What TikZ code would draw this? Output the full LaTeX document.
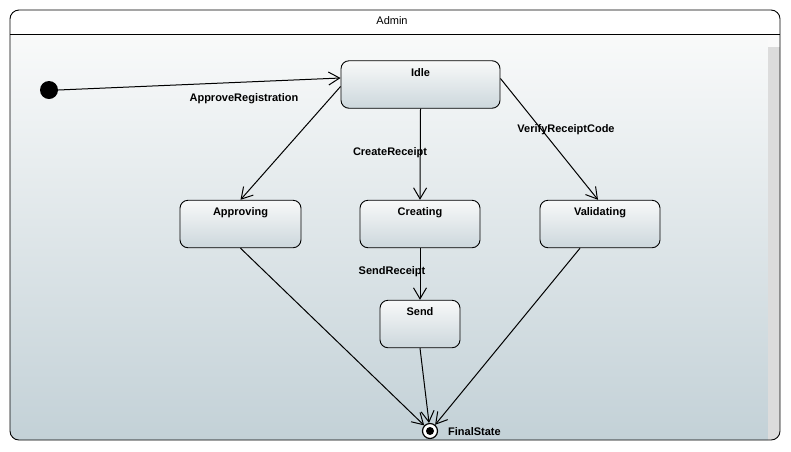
\documentclass[tikz,border=0pt]{standalone}
\usepackage{fontspec}
\setmainfont{Liberation Sans}
\usetikzlibrary{arrows.meta,calc}
\definecolor{bgtop}{HTML}{F9FAFA}
\definecolor{bgbot}{HTML}{C3D1D7}
\definecolor{boxtop}{HTML}{F8F9F9}
\definecolor{boxbot}{HTML}{CCD7DC}
\definecolor{scroll}{HTML}{DCDCDC}
\tikzset{
  statebox/.style={draw=black, line width=0.9pt, rounded corners=8pt, top color=boxtop, bottom color=boxbot,
    inner xsep=0pt, inner ysep=0pt, text height=15.5pt, text depth=32pt, font=\fontsize{11}{13}\selectfont\bfseries},
  trans/.style={line width=1pt, -{Straight Barb[length=11pt,width=13pt,line width=1pt]}},
  lbl/.style={font=\fontsize{11}{13}\selectfont\bfseries, inner sep=0pt}
}
\begin{document}
\begin{tikzpicture}[x=1pt,y=-1pt]
\useasboundingbox (0,0) rectangle (791,451);
% frame
\begin{scope}
\clip[rounded corners=9pt] (10,10) rectangle (780,440);
\fill[white] (10,10) rectangle (780,34);
\shade[top color=bgtop, bottom color=bgbot] (10,34) rectangle (768,440);
\fill[scroll] (768,34) rectangle (780,440);
\fill[white!85!scroll] (768,34) rectangle (780,47);
\end{scope}
\draw[line width=0.9pt, rounded corners=9pt] (10,10) rectangle (780,440);
\draw[line width=0.9pt] (10,34) -- (780,34);
\node[font=\fontsize{11}{13}\selectfont] (title) at (392,21) {Admin};
% states
\node[fill=black, circle, minimum size=18pt, inner sep=0pt] (init) at (49,90) {};
\node[statebox, minimum width=159pt] (idle) at (420.5,84.5) {Idle};
\node[statebox, minimum width=121pt] (approving) at (240.5,224) {Approving};
\node[statebox, minimum width=120pt] (creating) at (420,224) {Creating};
\node[statebox, minimum width=120pt] (validating) at (600,224) {Validating};
\node[statebox, minimum width=80pt] (send) at (420,324) {Send};
\node[circle, draw=black, line width=1.2pt, fill=white, minimum size=15pt, inner sep=0pt] (final) at (430,431) {};
\node[circle, fill=black, minimum size=8pt, inner sep=0pt] (finaldot) at (final) {};
\node[lbl, anchor=west] (finallbl) at (448,432) {FinalState};
% transitions
\draw[trans] (init.east) -- ([yshift=6.5pt]idle.west);
\draw[trans] ([yshift=-2pt]idle.west) -- (approving.north);
\draw[trans] (idle.south) -- (creating.north);
\draw[trans] ([yshift=6pt]idle.east) -- ([xshift=-2pt]validating.north);
\draw[trans] (creating.south) -- (send.north);
\draw[trans] (approving.south) -- (final);
\draw[trans] (send.south) -- (final);
\draw[trans] ([xshift=-20pt]validating.south) -- (final);
% labels
\node[lbl] (l1) at (244,99) {ApproveRegistration};
\node[lbl] (l2) at (390,153) {CreateReceipt};
\node[lbl] (l3) at (566,130) {VerifyReceiptCode};
\node[lbl] (l4) at (392,272) {SendReceipt};
\end{tikzpicture}
\end{document}
